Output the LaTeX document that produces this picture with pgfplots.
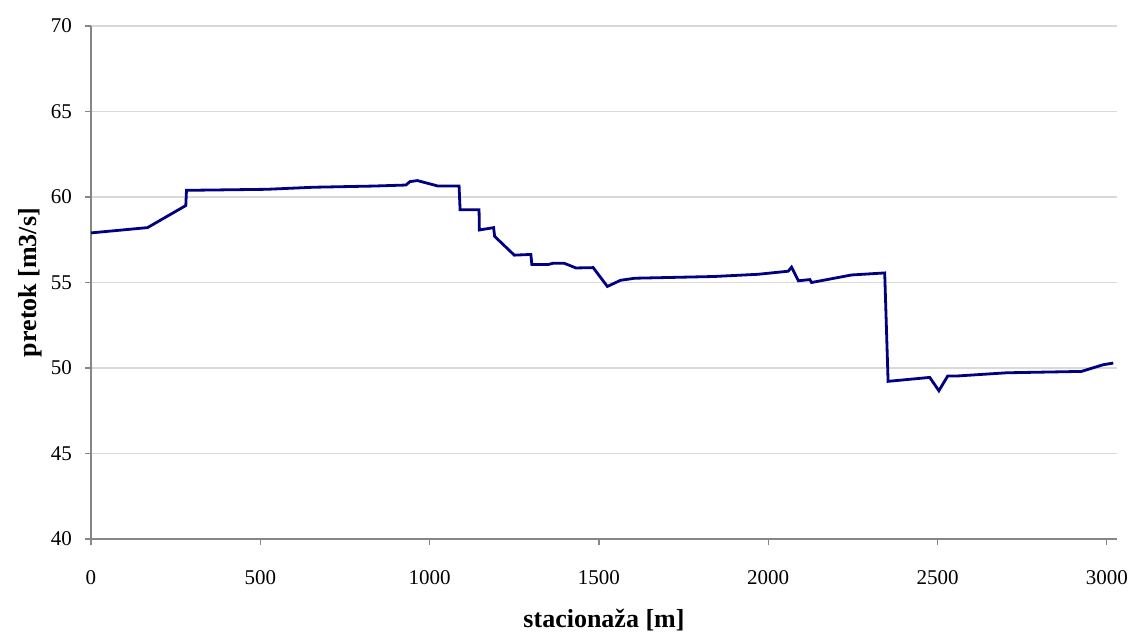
\documentclass[border=0pt]{standalone}
\usepackage{pgfplots}
\pgfplotsset{compat=1.18}
\usepackage{fontspec}
\setmainfont{Liberation Serif}
\definecolor{linec}{RGB}{0,0,128}
\definecolor{gridc}{RGB}{217,217,217}
\definecolor{axc}{RGB}{134,134,134}
\begin{document}
\begin{tikzpicture}
\begin{axis}[
  scale only axis,
  width=513pt, height=256.5pt,
  xmin=0, xmax=3030, ymin=40, ymax=70,
  xtick={0,500,...,3000}, ytick={40,45,...,70},
  axis lines*=left,
  axis line style={axc, line width=0.6pt},
  tick style={axc, line width=0.6pt},
  tick align=outside,
  major tick length=3pt,
  ymajorgrids,
  grid style={gridc, line width=0.6pt},
  /pgf/number format/assume math mode=true,
  /pgf/number format/set thousands separator={},
  ticklabel style={font=\fontsize{10.5}{12}\selectfont},
  xticklabel style={yshift=-9pt},
  yticklabel style={xshift=-3pt},
  xlabel={\textbf{stacionaža [m]}},
  ylabel={\textbf{pretok [m3/s]}},
  label style={font=\fontsize{13}{15}\selectfont},
  xlabel style={at={(axis description cs:0.5,0)}, anchor=center, yshift=-40.5pt},
  ylabel style={at={(axis description cs:0,0.5)}, anchor=center, rotate=0, xshift=0pt, yshift=30.5pt},
]
\addplot[linec, line width=1.4pt, mark=none] coordinates {
(0,57.90) (167,58.21) (280,59.50) (282,60.39) (519,60.45) (656,60.57)
(834,60.64) (930,60.70) (942,60.90) (964,60.96) (1025,60.64) (1087,60.64)
(1090,59.26) (1146,59.26) (1147,58.07) (1189,58.21) (1192,57.70) (1250,56.60)
(1299,56.64) (1302,56.05) (1350,56.05) (1365,56.13) (1397,56.13) (1432,55.85)
(1483,55.87) (1525,54.77) (1564,55.13) (1606,55.25) (1838,55.35) (1970,55.48)
(2059,55.66) (2069,55.90) (2089,55.10) (2123,55.17) (2128,55.00) (2246,55.44)
(2344,55.56) (2354,49.22) (2477,49.45) (2504,48.67) (2530,49.53) (2556,49.53)
(2704,49.72) (2925,49.80) (2989,50.19) (3019,50.29)
};
\end{axis}
\pgfresetboundingbox
\path ([shift={(-45.5pt,-47pt)}]current axis.south west) rectangle ([shift={(7.5pt,13pt)}]current axis.north east);
\end{tikzpicture}
\end{document}
